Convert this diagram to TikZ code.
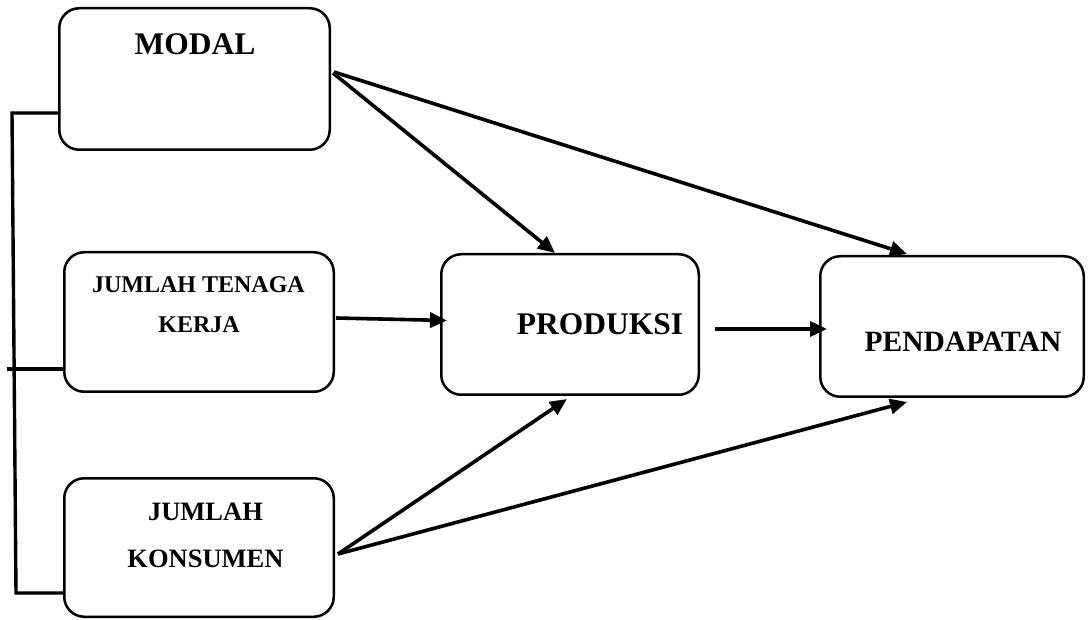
\documentclass[tikz,border=0pt]{standalone}
\usepackage{fontspec}
\setmainfont{Liberation Serif}
\usetikzlibrary{arrows.meta}
\tikzset{
  box/.style={draw=black, line width=2.5pt, rounded corners=20pt, inner sep=0pt},
  lbl/.style={anchor=base, inner sep=0pt, font=\bfseries},
  conn/.style={line width=3.6pt, -{Triangle[length=17pt,width=15pt]}},
  bracket/.style={line width=3.4pt}
}
\begin{document}
\begin{tikzpicture}[x=1pt,y=-1pt]
\useasboundingbox (0,0) rectangle (1088,620);
% boxes
\node[box, minimum width=270.5pt, minimum height=141.5pt] (modal) at (194.5,79) {};
\node[box, minimum width=269.5pt, minimum height=139.5pt] (jtk) at (199,322) {};
\node[box, minimum width=269.5pt, minimum height=138.5pt] (kons) at (199,547.5) {};
\node[box, minimum width=257.5pt, minimum height=140.5pt] (prod) at (570,324.5) {};
\node[box, minimum width=263.5pt, minimum height=140.5pt] (pend) at (952,326.5) {};
% labels
\node[lbl, font=\fontsize{31.5}{36}\selectfont\bfseries] (tmodal) at (195,55) {MODAL};
\node[lbl, font=\fontsize{24}{28}\selectfont\bfseries] (tjtk1) at (198.5,293) {JUMLAH TENAGA};
\node[lbl, font=\fontsize{24}{28}\selectfont\bfseries] (tjtk2) at (199,333) {KERJA};
\node[lbl, font=\fontsize{26.5}{30}\selectfont\bfseries] (tkons1) at (205.5,520) {JUMLAH};
\node[lbl, font=\fontsize{26.5}{30}\selectfont\bfseries] (tkons2) at (205.5,567) {KONSUMEN};
\node[lbl, font=\fontsize{31.5}{36}\selectfont\bfseries] (tprod) at (600,335) {PRODUKSI};
\node[lbl, font=\fontsize{29.5}{34}\selectfont\bfseries] (tpend) at (963,352) {PENDAPATAN};
% bracket
\coordinate (bT) at (12,113);
\coordinate (bM) at (7,369);
\coordinate (bB) at (16,593);
\draw[bracket] ([yshift=-34pt]modal.west) -- (bT) -- (bB) -- ([yshift=-45.5pt]kons.west);
\draw[bracket] (bM) -- ([yshift=-47pt]jtk.west);
% arrows
\draw[conn] ([xshift=2pt,yshift=6pt]modal.east) -- ([xshift=-15pt]prod.north);
\draw[conn] ([xshift=3pt,yshift=7pt]modal.east) -- ([xshift=-45pt,yshift=1pt]pend.north);
\draw[conn] ([xshift=1pt,yshift=4pt]jtk.east) -- ([xshift=7pt,yshift=4pt]prod.west);
\draw[conn] ([xshift=15pt,yshift=-4.5pt]prod.east) -- ([xshift=8pt,yshift=-2.5pt]pend.west);
\draw[conn] ([xshift=3pt,yshift=-6.5pt]kons.east) -- ([xshift=-3pt,yshift=-3pt]prod.south);
\draw[conn] ([xshift=3pt,yshift=-6.5pt]kons.east) -- ([xshift=-45pt,yshift=-4pt]pend.south);
\end{tikzpicture}
\end{document}
